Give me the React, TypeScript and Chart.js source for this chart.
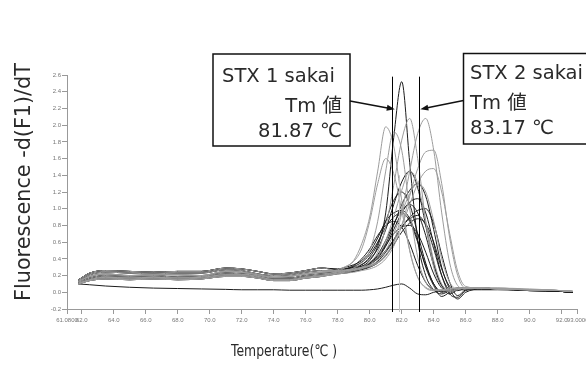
import React, { useEffect, useRef } from "react";
import { Chart, registerables } from "chart.js";

Chart.register(...registerables);

// ---- temperature grid (°C) ----
const baseTemps = [61.8, 62.5, 63.5, 65, 66.5, 68, 69.5, 71, 72, 73, 74, 75, 76, 77];
const peakTemps = [78, 78.5, 79, 79.5, 80, 80.5, 81, 81.5, 82, 82.5, 83, 83.5, 84, 84.5, 85, 85.5, 86, 87, 88, 90, 92, 92.7];

// ---- baseline portions (-d(F1)/dT) ----
const baseA = [0.12, 0.17, 0.2, 0.19, 0.2, 0.18, 0.19, 0.23, 0.22, 0.2, 0.17, 0.17, 0.2, 0.22];
const baseB = [0.14, 0.21, 0.24, 0.23, 0.22, 0.23, 0.23, 0.27, 0.26, 0.22, 0.2, 0.21, 0.24, 0.26];
const baseC = [0.1, 0.14, 0.16, 0.15, 0.16, 0.15, 0.16, 0.19, 0.19, 0.17, 0.14, 0.14, 0.17, 0.19];
const baseD = [0.15, 0.23, 0.26, 0.25, 0.24, 0.25, 0.25, 0.29, 0.28, 0.25, 0.22, 0.23, 0.26, 0.29];
const baseE = [0.11, 0.15, 0.18, 0.17, 0.18, 0.17, 0.18, 0.21, 0.21, 0.19, 0.15, 0.15, 0.18, 0.2];
const baseF = [0.13, 0.19, 0.22, 0.2, 0.21, 0.21, 0.2, 0.25, 0.24, 0.21, 0.18, 0.19, 0.22, 0.24];
const baseLow = [0.1, 0.09, 0.075, 0.06, 0.05, 0.045, 0.04, 0.035, 0.03, 0.03, 0.03, 0.025, 0.025, 0.025];

// ---- melt peak portions ----
const peakG1 = [0.24, 0.26, 0.28, 0.31, 0.38, 0.55, 0.95, 1.85, 2.52, 1.55, 0.62, 0.2, 0.03, -0.02, 0.02, 0.04, 0.05, 0.05, 0.04, 0.03, 0.01, 0.0];
const peakG2 = [0.26, 0.3, 0.38, 0.58, 0.9, 1.45, 1.98, 1.75, 1.1, 0.5, 0.18, 0.06, 0.03, 0.03, 0.04, 0.05, 0.05, 0.05, 0.04, 0.03, 0.02, 0.01];
const peakG3 = [0.23, 0.25, 0.27, 0.3, 0.36, 0.48, 0.78, 1.28, 1.82, 2.08, 1.6, 0.85, 0.3, 0.06, 0.01, 0.03, 0.05, 0.05, 0.04, 0.03, 0.02, 0.01];
const peakG4 = [0.25, 0.26, 0.27, 0.29, 0.31, 0.35, 0.43, 0.6, 0.95, 1.45, 1.9, 2.08, 1.7, 0.95, 0.35, 0.08, 0.04, 0.05, 0.05, 0.03, 0.02, 0.01];
const peakG5 = [0.22, 0.23, 0.24, 0.26, 0.28, 0.32, 0.4, 0.55, 0.8, 1.15, 1.48, 1.68, 1.7, 1.3, 0.65, 0.2, 0.05, 0.05, 0.05, 0.03, 0.02, 0.01];
const peakG6 = [0.26, 0.27, 0.28, 0.3, 0.32, 0.36, 0.45, 0.6, 0.8, 1.05, 1.3, 1.45, 1.48, 1.2, 0.7, 0.25, 0.07, 0.05, 0.05, 0.04, 0.02, 0.01];
const peakG7 = [0.27, 0.31, 0.37, 0.52, 0.85, 1.3, 1.6, 1.42, 0.98, 0.5, 0.18, 0.05, 0.02, 0.03, 0.04, 0.05, 0.05, 0.05, 0.04, 0.03, 0.02, 0.01];
const peakG8 = [0.24, 0.26, 0.29, 0.35, 0.5, 0.85, 1.45, 1.92, 1.7, 1.0, 0.42, 0.12, 0.03, 0.02, 0.03, 0.05, 0.05, 0.05, 0.04, 0.03, 0.02, 0.01];
const peakG9 = [0.23, 0.24, 0.26, 0.28, 0.33, 0.42, 0.62, 0.9, 1.22, 1.45, 1.3, 0.85, 0.38, 0.1, 0.02, 0.04, 0.05, 0.05, 0.04, 0.03, 0.02, 0.01];
const peakG10 = [0.25, 0.26, 0.27, 0.29, 0.32, 0.38, 0.5, 0.7, 0.95, 1.18, 1.3, 1.2, 0.85, 0.4, 0.12, 0.04, 0.05, 0.05, 0.04, 0.03, 0.02, 0.01];

const peakD1 = [0.27, 0.28, 0.3, 0.33, 0.4, 0.52, 0.75, 1.05, 1.32, 1.45, 1.25, 0.8, 0.35, 0.08, -0.02, 0.03, 0.05, 0.05, 0.04, 0.03, 0.01, 0.0];
const peakD2 = [0.25, 0.27, 0.29, 0.33, 0.42, 0.58, 0.85, 1.1, 1.2, 1.05, 0.7, 0.35, 0.1, 0.0, 0.02, 0.04, 0.05, 0.05, 0.04, 0.03, 0.01, 0.0];
const peakD3 = [0.24, 0.25, 0.27, 0.3, 0.35, 0.45, 0.62, 0.82, 0.98, 1.05, 0.95, 0.68, 0.32, 0.08, 0.02, 0.04, 0.05, 0.05, 0.04, 0.03, 0.01, 0.0];
const peakD4 = [0.26, 0.28, 0.31, 0.36, 0.45, 0.6, 0.78, 0.9, 0.95, 0.85, 0.6, 0.32, 0.1, 0.01, 0.03, 0.05, 0.05, 0.05, 0.04, 0.02, 0.01, 0.0];
const peakD5 = [0.24, 0.25, 0.26, 0.28, 0.31, 0.37, 0.48, 0.62, 0.78, 0.88, 0.92, 0.8, 0.52, 0.2, 0.03, 0.02, 0.05, 0.05, 0.04, 0.03, 0.01, 0.0];
const peakD6 = [0.27, 0.28, 0.29, 0.31, 0.34, 0.4, 0.5, 0.63, 0.78, 0.9, 0.98, 1.0, 0.82, 0.45, 0.12, -0.04, 0.03, 0.05, 0.04, 0.03, 0.01, 0.0];
const peakD7 = [0.25, 0.28, 0.32, 0.4, 0.52, 0.68, 0.8, 0.85, 0.78, 0.58, 0.32, 0.12, 0.03, 0.02, 0.03, 0.05, 0.05, 0.05, 0.04, 0.03, 0.02, 0.01];
const peakD8 = [0.23, 0.24, 0.26, 0.29, 0.33, 0.41, 0.55, 0.75, 0.95, 1.08, 1.12, 0.95, 0.58, 0.2, -0.02, -0.06, 0.02, 0.05, 0.04, 0.03, 0.01, 0.0];
const peakD9 = [0.22, 0.23, 0.25, 0.28, 0.33, 0.42, 0.56, 0.7, 0.78, 0.8, 0.7, 0.48, 0.22, 0.05, 0.01, 0.04, 0.05, 0.04, 0.04, 0.02, 0.01, 0.0];
const peakD10 = [0.26, 0.27, 0.28, 0.31, 0.35, 0.43, 0.58, 0.8, 1.05, 1.22, 1.3, 1.15, 0.75, 0.3, 0.04, -0.08, 0.0, 0.04, 0.04, 0.03, 0.01, 0.0];
const peakD11 = [0.28, 0.3, 0.33, 0.38, 0.48, 0.65, 0.85, 0.95, 0.98, 0.88, 0.62, 0.3, 0.08, -0.05, 0.0, 0.04, 0.05, 0.05, 0.04, 0.03, 0.01, 0.0];
const peakD12 = [0.23, 0.24, 0.25, 0.27, 0.3, 0.35, 0.44, 0.57, 0.72, 0.83, 0.88, 0.82, 0.6, 0.28, 0.07, 0.03, 0.05, 0.05, 0.04, 0.02, 0.01, 0.0];
const peakLow = [0.025, 0.025, 0.025, 0.025, 0.03, 0.04, 0.06, 0.085, 0.1, 0.05, -0.02, -0.03, 0.0, 0.02, 0.03, 0.03, 0.03, 0.03, 0.03, 0.02, 0.01, 0.0];

// pairs of (baseline, peak) per sample curve
const greyCurves = [
  [baseB, peakG2], [baseC, peakG3], [baseE, peakG4], [baseC, peakG5], [baseD, peakG6],
  [baseF, peakG7], [baseA, peakG8], [baseE, peakG9], [baseF, peakG10],
];
const darkCurves = [
  [baseD, peakD1], [baseA, peakD2], [baseE, peakD3], [baseB, peakD4], [baseC, peakD5],
  [baseD, peakD6], [baseF, peakD7], [baseA, peakD8], [baseC, peakD9], [baseB, peakD10],
  [baseD, peakD11], [baseE, peakD12], [baseA, peakG1], [baseLow, peakLow],
];

// ---- axes ----
const xTickValues = [61.08, 62, 64, 66, 68, 70, 72, 74, 76, 78, 80, 82, 84, 86, 88, 90, 92, 93];
const xTickLabels = ["61.0800", "62.0", "64.0", "66.0", "68.0", "70.0", "72.0", "74.0", "76.0", "78.0", "80.0", "82.0", "84.0", "86.0", "88.0", "90.0", "92.0", "93.0000"];
const yTickValues = [-0.2, 0, 0.2, 0.4, 0.6, 0.8, 1.0, 1.2, 1.4, 1.6, 1.8, 2.0, 2.2, 2.4, 2.6];
const yTickLabels = ["-0.2", "0.0", "0.2", "0.4", "0.6", "0.8", "1.0", "1.2", "1.4", "1.6", "1.8", "2.0", "2.2", "2.4", "2.6"];

// ---- Tm markers ----
const tmLine1 = 81.38;
const tmLine2 = 83.1;
const tmFaint = 81.85;
const stx1Lines = ["STX 1 sakai", "Tm 値", "81.87 ℃"];
const stx2Lines = ["STX 2 sakai", "Tm 値", "83.17 ℃"];
const xTitle = "Temperature(℃ )";
const yTitle = "Fluorescence -d(F1)/dT";

const FONT = '"DejaVu Sans", "Noto Sans CJK JP", sans-serif';

function fitSize(ctx: CanvasRenderingContext2D, text: string, width: number) {
  ctx.font = `100px ${FONT}`;
  return (100 * width) / ctx.measureText(text).width;
}

function arrow(ctx: CanvasRenderingContext2D, x1: number, y1: number, x2: number, y2: number) {
  const a = Math.atan2(y2 - y1, x2 - x1);
  ctx.beginPath();
  ctx.moveTo(x1, y1);
  ctx.lineTo(x2 - 6 * Math.cos(a), y2 - 6 * Math.sin(a));
  ctx.stroke();
  ctx.beginPath();
  ctx.moveTo(x2, y2);
  ctx.lineTo(x2 - 8 * Math.cos(a) + 3 * Math.sin(a), y2 - 8 * Math.sin(a) - 3 * Math.cos(a));
  ctx.lineTo(x2 - 8 * Math.cos(a) - 3 * Math.sin(a), y2 - 8 * Math.sin(a) + 3 * Math.cos(a));
  ctx.closePath();
  ctx.fill();
}

const overlay = {
  id: "overlay",
  afterDatasetsDraw(chart: any) {
    const { ctx, scales, chartArea } = chart;
    const x = scales.x, y = scales.y;
    ctx.save();
    ctx.strokeStyle = "#c4c4c4";
    ctx.lineWidth = 1;
    ctx.beginPath();
    ctx.moveTo(Math.round(x.getPixelForValue(tmFaint)) + 0.5, y.getPixelForValue(1.4));
    ctx.lineTo(Math.round(x.getPixelForValue(tmFaint)) + 0.5, chartArea.bottom + 3);
    ctx.stroke();
    ctx.strokeStyle = "#000";
    for (const t of [tmLine1, tmLine2]) {
      const px = Math.round(x.getPixelForValue(t)) + 0.5;
      ctx.beginPath();
      ctx.moveTo(px, y.getPixelForValue(2.58));
      ctx.lineTo(px, chartArea.bottom + 3);
      ctx.stroke();
    }
    ctx.restore();
  },
  afterDraw(chart: any) {
    const { ctx, scales } = chart;
    const x = scales.x, y = scales.y;
    ctx.save();
    // boxes
    ctx.fillStyle = "#fff";
    ctx.strokeStyle = "#111";
    ctx.lineWidth = 1.5;
    ctx.fillRect(213, 54, 137, 92);
    ctx.strokeRect(213, 54, 137, 92);
    ctx.fillRect(463.5, 53.5, 130, 90.5);
    ctx.strokeRect(463.5, 53.5, 130, 90.5);

    // arrows
    ctx.lineWidth = 1.5;
    ctx.fillStyle = "#111";
    const tipY = y.getPixelForValue(2.19);
    arrow(ctx, 350, 101, x.getPixelForValue(tmLine1) + 3, tipY);
    arrow(ctx, 463.5, 100.5, x.getPixelForValue(tmLine2) + 1, tipY);

    // box texts
    const size = fitSize(ctx, stx1Lines[0], 113);
    ctx.font = `${size}px ${FONT}`;
    ctx.fillStyle = "#2a2a2a";
    ctx.textBaseline = "alphabetic";
    ctx.textAlign = "left";
    ctx.fillText(stx1Lines[0], 222, 81.5);
    ctx.textAlign = "right";
    ctx.fillText(stx1Lines[1], 342, 111.5);
    ctx.fillText(stx1Lines[2], 342, 136.5);
    ctx.textAlign = "left";
    ctx.fillText(stx2Lines[0], 470, 79);
    ctx.fillText(stx2Lines[1], 470, 109);
    ctx.fillText(stx2Lines[2], 470, 134);

    // x axis title: 16px, condensed to the reference width
    ctx.save();
    ctx.font = `16px ${FONT}`;
    const xw = ctx.measureText(xTitle).width;
    ctx.fillStyle = "#2a2a2a";
    ctx.textAlign = "center";
    ctx.textBaseline = "middle";
    ctx.translate(284, 352);
    ctx.scale(106 / xw, 1);
    ctx.fillText(xTitle, 0, 0);
    ctx.restore();

    const ys = fitSize(ctx, yTitle, 238);
    ctx.font = `${ys}px ${FONT}`;
    ctx.fillStyle = "#2a2a2a";
    ctx.textAlign = "center";
    ctx.textBaseline = "middle";
    ctx.translate(25, 182);
    ctx.rotate(-Math.PI / 2);
    ctx.fillText(yTitle, 0, 0);
    ctx.restore();
  },
};

export default function App() {
  const ref = useRef<HTMLCanvasElement | null>(null);
  useEffect(() => {
    if (!ref.current) return;
    const temps = [...baseTemps, ...peakTemps];
    const mk = (pair: number[][], color: string, i: number) => {
      const vals = [...pair[0], ...pair[1]];
      return {
        label: `curve ${i + 1}`,
        data: temps.map((t, k) => ({ x: t, y: vals[k] })),
        borderColor: color,
        borderWidth: 1,
        pointRadius: 0,
        fill: false,
        cubicInterpolationMode: "monotone" as const,
      };
    };
    const datasets = [
      ...greyCurves.map((p, i) => mk(p, "#9c9c9c", i)),
      ...darkCurves.map((p, i) => mk(p, "#1c1c1c", i + greyCurves.length)),
    ];
    const tickFont = { family: '"Liberation Sans", sans-serif', size: 6 };
    const chart = new Chart(ref.current, {
      type: "line",
      data: { datasets },
      options: {
        animation: false,
        responsive: false,
        devicePixelRatio: 1,
        layout: { padding: { top: 75, right: 8.3, bottom: 0, left: 0 } },
        plugins: { legend: { display: false }, tooltip: { enabled: false } },
        scales: {
          x: {
            type: "linear",
            min: 61.08,
            max: 93,
            afterBuildTicks: (s: any) => {
              s.ticks = xTickValues.map((v) => ({ value: v }));
            },
            afterFit: (s: any) => {
              s.height = 74;
              s.paddingLeft = 0;
              s.paddingRight = 0;
            },
            ticks: {
              autoSkip: false,
              maxRotation: 0,
              minRotation: 0,
              padding: 3,
              color: "#777",
              font: tickFont,
              callback: (_v: any, i: number) => xTickLabels[i],
            },
            grid: { drawOnChartArea: false, drawTicks: true, tickLength: 5, color: "#999" },
            border: { color: "#999" },
          },
          y: {
            type: "linear",
            min: -0.2,
            max: 2.6,
            afterBuildTicks: (s: any) => {
              s.ticks = yTickValues.map((v) => ({ value: v }));
            },
            afterFit: (s: any) => {
              s.width = 67;
              s.paddingTop = 0;
              s.paddingBottom = 0;
            },
            ticks: {
              autoSkip: false,
              padding: 1,
              color: "#777",
              font: tickFont,
              callback: (_v: any, i: number) => yTickLabels[i],
            },
            grid: { drawOnChartArea: false, drawTicks: true, tickLength: 5, color: "#999" },
            border: { color: "#999" },
          },
        },
      },
      plugins: [overlay],
    });
    return () => chart.destroy();
  }, []);
  return (
    <div style={{ position: "absolute", left: 0, top: 0, width: 586, height: 383, background: "#fff" }}>
      <canvas ref={ref} width={586} height={383} style={{ display: "block" }} />
    </div>
  );
}
